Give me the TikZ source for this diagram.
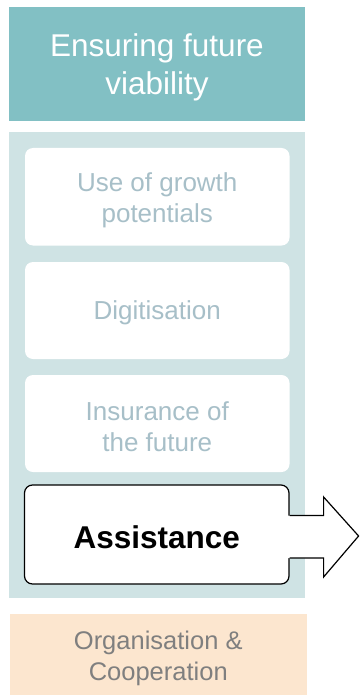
\documentclass[tikz,border=0pt]{standalone}
\usepackage{fontspec}
\setmainfont{Liberation Sans}
\definecolor{headteal}{HTML}{82C0C4}
\definecolor{paneltint}{HTML}{CFE3E4}
\definecolor{orgtint}{HTML}{FCE6CF}
\definecolor{fadetext}{HTML}{A7BFC8}
\definecolor{orgtext}{HTML}{7F7F7F}
\begin{document}
\begin{tikzpicture}[x=1pt,y=-1pt,
    headbox/.style={fill=headteal,inner sep=0pt,minimum width=296pt,minimum height=114.5pt},
    headtxt/.style={text=white,align=center,inner sep=0pt,font=\fontsize{31.5}{38}\selectfont},
    fadebox/.style={fill=white,rounded corners=8pt,inner sep=0pt,
      minimum width=264.5pt,minimum height=97pt},
    fadetxt/.style={text=fadetext,align=center,inner sep=0pt,font=\fontsize{26}{31}\selectfont},
    activebox/.style={draw=black,line width=1.2pt,fill=white,rounded corners=8pt,
      inner sep=0pt,minimum width=264.5pt,minimum height=99pt},
    activetxt/.style={inner sep=0pt,font=\fontsize{31.5}{38}\selectfont\bfseries}]
  \useasboundingbox (0,0) rectangle (359,695);
  \node[headbox] (head) at (157,64.25) {};
  \node[headtxt] (head-t) at ([yshift=-3.5pt]head.center) {Ensuring future\\viability};
  \node[fill=paneltint,inner sep=0pt,minimum width=296pt,minimum height=466pt] (panel) at (157,365) {};
  \node[fadebox,minimum height=97.5pt] (growth) at (157.25,196.75) {};
  \node[fadetxt] (growth-t) at ([yshift=-3.5pt]growth.center) {Use of growth\\potentials};
  \node[fadebox] (digit) at (157.25,310.5) {};
  \node[fadetxt] (digit-t) at ([yshift=-2pt]digit.center) {Digitisation};
  \node[fadebox] (insure) at (157.25,423.5) {};
  \node[fadetxt] (insure-t) at ([yshift=-3.5pt]insure.center) {Insurance of\\the future};
  \node[activebox] (assist) at (156.75,534.5) {};
  \node[activetxt] (assist-t) at ([yshift=-2.5pt]assist.center) {Assistance};
  % arrow out of the active box
  \fill[white] ([shift={(-2,-19)}]assist.east) -- ++(36,0) -- ++(0,-18.5) -- ++(35,39)
    -- ++(-35,41) -- ++(0,-19) -- ++(-36,0) -- cycle;
  \draw[line width=1.2pt,line join=miter] ([shift={(0,-19)}]assist.east) -- ++(34,0) -- ++(0,-18.5)
    -- ++(35,39) -- ++(-35,41) -- ++(0,-19) -- ++(-34,0);
  \node[fill=orgtint,inner sep=0pt,minimum width=296.5pt,minimum height=81pt] (org) at (158.25,654.5) {};
  \node[text=orgtext,align=center,inner sep=0pt,font=\fontsize{25.5}{31}\selectfont] (org-t)
    at ([yshift=-3.5pt]org.center) {Organisation \&\\Cooperation};
\end{tikzpicture}
\end{document}
